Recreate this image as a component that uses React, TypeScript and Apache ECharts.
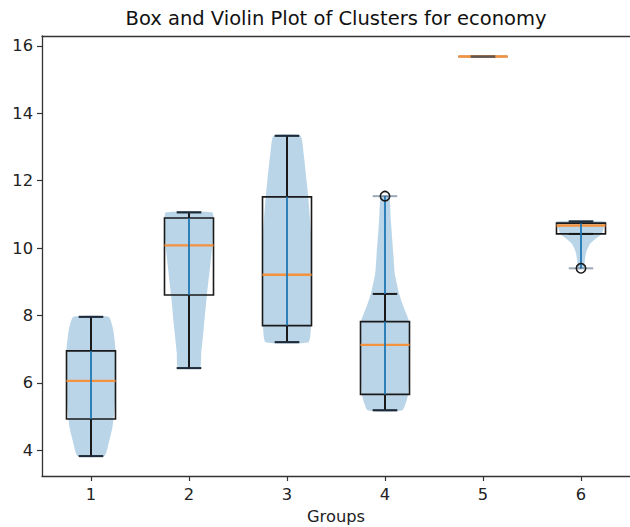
import React, { useEffect, useRef } from "react";
import * as echarts from "echarts";

// ---- data ----
const groups = [1, 2, 3, 4, 5, 6];
const yTicks = [4, 6, 8, 10, 12, 14, 16];
const whiskerLow = [3.83, 6.44, 7.21, 5.19, 15.68, 10.42];
const q1 = [4.93, 8.61, 7.7, 5.66, 15.68, 10.42];
const medians = [6.06, 10.08, 9.21, 7.13, 15.68, 10.67];
const q3 = [6.95, 10.89, 11.52, 7.82, 15.68, 10.74];
const whiskerHigh = [7.96, 11.06, 13.33, 8.64, 15.68, 10.79];
const dataMin = [3.83, 6.44, 7.21, 5.19, 15.68, 9.4];
const dataMax = [7.96, 11.06, 13.33, 11.54, 15.68, 10.79];
const fliers: number[][] = [[], [], [], [11.54], [], [9.4]];

// violin profiles: values (low -> high) and relative half-widths (1 = full width)
const violinValues: number[][] = [
  [3.83, 4.3, 4.7, 5.3, 6.0, 7.0, 7.6, 7.96],
  [6.44, 6.9, 7.6, 8.6, 9.5, 10.2, 10.8, 11.06],
  [7.21, 7.7, 8.5, 9.5, 10.5, 11.5, 12.0, 12.8, 13.33],
  [5.19, 5.67, 6.36, 7.16, 7.85, 8.14, 8.35, 8.64, 9.24, 9.84, 10.82, 11.54],
  [],
  [9.4, 9.6, 9.84, 9.95, 10.13, 10.25, 10.42, 10.6, 10.79],
];
const violinWidths: number[][] = [
  [0.55, 0.75, 0.88, 0.97, 1.0, 1.0, 0.9, 0.72],
  [0.45, 0.5, 0.6, 0.73, 0.87, 0.97, 1.0, 0.95],
  [0.88, 0.98, 1.0, 1.0, 0.97, 0.87, 0.8, 0.68, 0.55],
  [0.71, 0.95, 1.0, 1.0, 0.97, 0.82, 0.71, 0.58, 0.4, 0.34, 0.24, 0.17],
  [],
  [0.12, 0.15, 0.2, 0.25, 0.37, 0.55, 0.84, 0.93, 1.0],
];

const FONT = "DejaVu Sans";
const BOX_HALF = 0.25;
const CAP_HALF = 0.125;
const VIOLIN_HALF = 0.25;

export default function App() {
  const ref = useRef<HTMLDivElement>(null);

  useEffect(() => {
    if (!ref.current) return;
    const chart = echarts.init(ref.current, undefined, { renderer: "svg" });

    const renderItem = (params: any, api: any) => {
      const i = params.dataIndex;
      const x = api.value(0);
      const pt = (dx: number, v: number) => api.coord([x + dx, v]);
      const children: any[] = [];
      const hline = (v: number, half: number, color: string, w: number, opacity = 1) => {
        const a = pt(-half, v);
        const b = pt(half, v);
        return {
          type: "line",
          shape: { x1: a[0], y1: a[1], x2: b[0], y2: b[1] },
          style: { stroke: color, lineWidth: w, opacity },
        };
      };
      const vline = (v1: number, v2: number, color: string, w: number) => {
        const a = pt(0, v1);
        const b = pt(0, v2);
        return {
          type: "line",
          shape: { x1: a[0], y1: a[1], x2: b[0], y2: b[1] },
          style: { stroke: color, lineWidth: w },
        };
      };

      const vals = violinValues[i];
      const ws = violinWidths[i];
      if (vals.length) {
        const left = vals.map((v, k) => pt(-VIOLIN_HALF * ws[k], v));
        const right = vals.map((v, k) => pt(VIOLIN_HALF * ws[k], v)).reverse();
        children.push({
          type: "polygon",
          shape: { points: [...left, ...right], smooth: 0.15 },
          style: { fill: "rgba(31,119,180,0.31)" },
        });
      }

      // caps (black)
      children.push(hline(whiskerHigh[i], CAP_HALF, "#1a1a1a", 2));
      children.push(hline(whiskerLow[i], CAP_HALF, "#1a1a1a", 2));

      // box
      const tl = pt(-BOX_HALF, q3[i]);
      const br = pt(BOX_HALF, q1[i]);
      children.push({
        type: "rect",
        shape: { x: tl[0], y: tl[1], width: br[0] - tl[0], height: br[1] - tl[1] },
        style: { fill: "none", stroke: "#1a1a1a", lineWidth: 1.6 },
      });

      // median
      children.push(hline(medians[i], BOX_HALF, "#f5923e", 2.4));

      // violin centre bar
      if (vals.length) {
        children.push(vline(dataMin[i], dataMax[i], "#1f77b4", 1.8));
      }

      // whiskers
      if (whiskerHigh[i] > q3[i]) children.push(vline(q3[i], whiskerHigh[i], "#1a1a1a", 2));
      if (whiskerLow[i] < q1[i]) children.push(vline(q1[i], whiskerLow[i], "#1a1a1a", 2));

      // violin extrema lines
      children.push(hline(dataMax[i], CAP_HALF, "#1f3f5f", 2, 0.45));
      children.push(hline(dataMin[i], CAP_HALF, "#1f3f5f", 2, 0.45));

      // fliers
      fliers[i].forEach((f) => {
        const c = pt(0, f);
        children.push({
          type: "circle",
          shape: { cx: c[0], cy: c[1], r: 4.7 },
          style: { fill: "none", stroke: "#1a1a1a", lineWidth: 1.6 },
        });
      });

      return { type: "group", children };
    };

    const axisBase = {
      axisLine: { show: true, onZero: false, lineStyle: { color: "#333", width: 1.3 } },
      splitLine: { show: false },
    };

    chart.setOption({
      animation: false,
      backgroundColor: "#ffffff",
      graphic: [
        {
          type: "text",
          x: 336,
          y: 18,
          style: {
            text: "Box and Violin Plot of Clusters for economy",
            fontFamily: FONT,
            fontSize: 19.5,
            fill: "#111",
            align: "center",
            verticalAlign: "middle",
          },
        },
      ],
      grid: {
        left: 42,
        right: 0,
        top: 36,
        bottom: 51,
        containLabel: false,
        outerBoundsMode: "none",
      },
      xAxis: [
        {
          type: "value",
          min: 0.5,
          max: 6.5,
          name: "Groups",
          nameLocation: "middle",
          nameGap: 32,
          nameTextStyle: { fontFamily: FONT, fontSize: 16.3, color: "#222" },
          ...axisBase,
          axisTick: { show: true, length: 5, customValues: groups, lineStyle: { color: "#333", width: 1.2 } },
          axisLabel: { customValues: groups, fontFamily: FONT, fontSize: 16.3, color: "#222", margin: 10 },
        },
        {
          type: "value",
          position: "top",
          min: 0.5,
          max: 6.5,
          ...axisBase,
          axisTick: { show: false },
          axisLabel: { show: false },
        },
      ],
      yAxis: {
        type: "value",
        min: 3.24,
        max: 16.29,
        ...axisBase,
        axisTick: { show: true, length: 5, customValues: yTicks, lineStyle: { color: "#333", width: 1.2 } },
        axisLabel: { customValues: yTicks, fontFamily: FONT, fontSize: 16.3, color: "#222", margin: 9 },
      },
      series: [
        {
          type: "custom",
          renderItem,
          xAxisIndex: 0,
          yAxisIndex: 0,
          data: groups.map((g, i) => [g, medians[i]]),
          encode: { x: 0, y: 1 },
          clip: true,
        },
      ],
    });

    return () => chart.dispose();
  }, []);

  return (
    <div
      ref={ref}
      style={{ position: "absolute", left: 0, top: 0, width: 630, height: 527 }}
    />
  );
}
